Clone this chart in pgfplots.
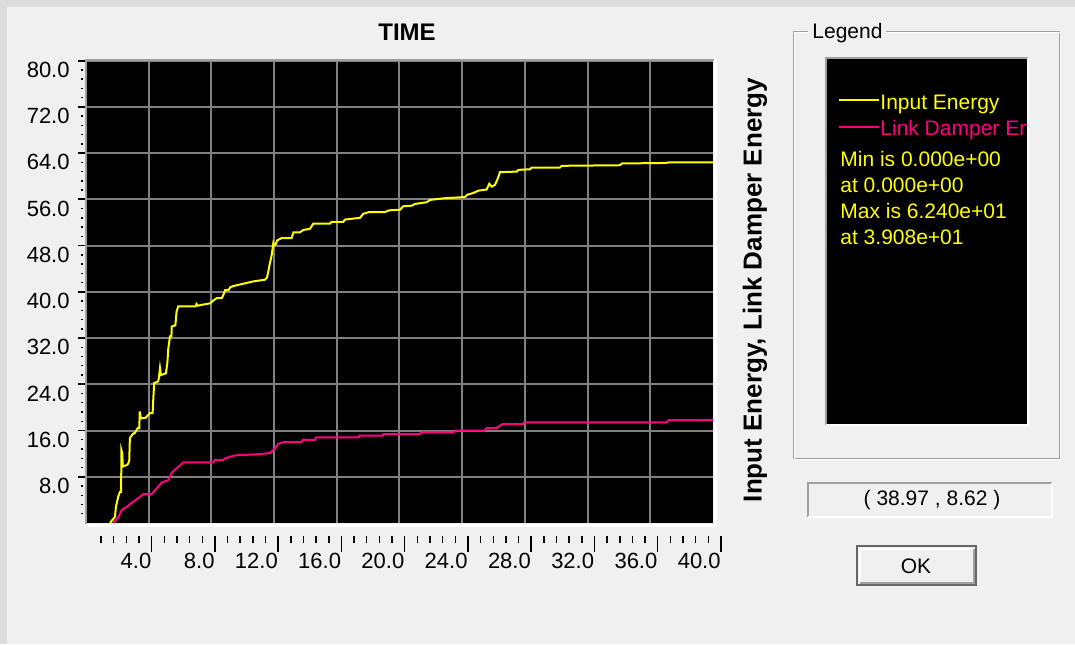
\documentclass[border=0pt]{standalone}
\usepackage{pgfplots}
\pgfplotsset{compat=1.18}
\usepackage{pgfplotstable}
\usepackage{fontspec}
\setmainfont{Liberation Sans}
\definecolor{winbg}{HTML}{F0F0F0}
\definecolor{winedge}{HTML}{DCDCDC}
\definecolor{gridgray}{HTML}{808080}
\definecolor{edgegray}{HTML}{A0A0A0}
\definecolor{yel}{HTML}{FFFF00}
\definecolor{mag}{HTML}{FF0080}
\newcommand\ticklab{\fontsize{11}{13}\selectfont}
\newcommand\legfont{\fontsize{10.5}{12}\selectfont}

\pgfplotstableread{
x y
1.53 0
1.85 1.1
1.91 2.8
2.06 4.6
2.17 5.4
2.24 5.4
2.26 12.6
2.32 12.0
2.34 9.75
2.45 9.9
2.60 10.0
2.70 10.3
2.76 10.9
2.80 14.7
3.02 15.5
3.10 15.5
3.30 16.4
3.40 16.4
3.43 19.3
3.50 18.1
3.80 18.2
4.08 19.0
4.25 19.0
4.29 21.3
4.35 24.2
4.60 24.5
4.65 25.1
4.72 26.8
4.78 25.6
5.10 25.9
5.19 27.7
5.25 30.2
5.36 32.3
5.45 32.3
5.47 34.0
5.70 34.2
5.78 36.6
5.89 37.5
7.00 37.5
7.05 37.9
7.15 37.6
7.49 37.8
7.91 38.0
8.12 38.5
8.34 38.9
8.66 38.9
8.80 39.7
8.87 40.3
9.10 40.3
9.20 40.8
9.40 41.0
10.04 41.4
10.67 41.8
11.42 42.1
11.55 42.5
11.63 43.5
11.70 44.5
11.85 46.4
11.95 48.4
12.00 48.0
12.10 48.2
12.20 48.9
12.27 49.0
12.48 49.3
13.12 49.3
13.23 50.3
13.65 50.3
13.86 50.7
14.29 50.9
14.50 51.8
15.57 51.8
15.67 52.1
16.41 52.1
16.52 52.5
17.48 52.8
17.69 53.5
18.07 53.8
19.07 53.8
19.35 54.1
20.03 54.2
20.24 54.8
20.78 54.9
20.99 55.2
21.73 55.5
21.95 55.9
22.90 56.2
24.18 56.4
24.33 56.8
24.71 57.1
25.03 57.5
25.56 57.7
25.73 58.7
25.88 58.2
26.09 58.5
26.24 59.4
26.35 60.2
26.41 60.7
27.48 60.8
27.58 61.1
28.33 61.2
28.43 61.5
30.24 61.5
30.35 61.8
34.07 61.9
34.18 62.2
37.05 62.3
37.15 62.4
40.00 62.4
}\inputtab

\pgfplotstableread{
x y
1.74 0
2.06 1.0
2.28 2.25
2.60 2.8
3.02 3.7
3.34 4.3
3.66 5.0
4.19 5.0
4.51 6.0
4.83 7.0
5.25 7.4
5.47 8.7
6.21 10.5
8.12 10.5
8.23 10.9
8.76 10.9
8.87 11.2
9.51 11.7
10.99 11.9
11.74 12.1
12.06 12.9
12.27 13.7
12.59 14.0
13.75 14.0
13.82 14.4
14.62 14.4
14.67 14.8
17.37 14.8
17.44 15.1
18.93 15.1
18.97 15.4
21.31 15.4
21.42 15.7
23.44 15.7
23.54 16.0
25.45 16.0
25.52 16.4
26.20 16.4
26.31 16.7
26.58 17.1
27.88 17.1
27.94 17.4
37.05 17.4
37.15 17.8
40.00 17.8
}\dampertab

\begin{document}
\begin{tikzpicture}
% background, in pixel units; origin of picture = lower left of plot area
\begin{scope}[x=0.5pt,y=0.5pt,shift={(-43pt,-60.5pt)}]
\useasboundingbox (0,0) rectangle (1075,644);
\fill[winbg] (0,0) rectangle (1075,644);
\fill[winedge] (0,637) rectangle (1075,644);
\fill[winedge] (0,0) rectangle (7,644);
\end{scope}

% main plot
\begin{axis}[
  scale only axis, width=313.5pt, height=231.2pt,
  xmin=0, xmax=40, ymin=0, ymax=80,
  axis background/.style={fill=black},
  axis line style={draw=none},
  xtick={4,8,...,36}, xticklabels={},
  major x tick style={draw=none},
  ytick={8,16,...,80},
  yticklabels={8.0,16.0,24.0,32.0,40.0,48.0,56.0,64.0,72.0,80.0},
  minor ytick={1.6,3.2,...,78.4},
  ytick pos=left,
  tick align=outside,
  major tick length=4pt, minor tick length=1pt,
  major y tick style={black, line width=0.9pt},
  minor y tick style={black, line width=0.7pt, xshift=-1.5pt},
  grid=major, major grid style={gridgray, line width=1pt},
  yticklabel style={anchor=north east, font=\ticklab, inner sep=0pt, xshift=-4pt, yshift=-0.5pt},
]
\addplot[yel, line width=1pt] table[x=x,y=y] {\inputtab};
\addplot[mag, line width=1pt] table[x=x,y=y] {\dampertab};
\end{axis}

% x ticks below the plot
\begin{axis}[
  at={(1.2pt,-6.5pt)},
  scale only axis, width=316.3pt, height=1pt,
  xmin=0, xmax=40, ymin=0, ymax=1,
  axis line style={draw=none},
  ytick=\empty,
  xtick={4,8,...,40},
  xticklabels={4.0,8.0,12.0,16.0,20.0,24.0,28.0,32.0,36.0,40.0},
  minor xtick={0.8,1.6,...,39.2},
  xtick pos=left,
  tick align=outside,
  major tick length=8pt, minor tick length=3.5pt,
  every tick/.style={black, line width=0.75pt},
  xticklabel style={anchor=north east, font=\ticklab, inner sep=0pt, yshift=-0.5pt},
]
\end{axis}

\begin{scope}[x=0.5pt,y=0.5pt,shift={(-43pt,-60.5pt)}]
% plot frame (3D)
\draw[edgegray, line width=1pt] (86,120) -- (86,584) -- (714,584);
\draw[white, line width=1.5pt] (715,585) -- (715,118.5) -- (85,118.5);

\node[font=\bfseries\fontsize{12}{14}\selectfont] at (407,612) {TIME};
\node[rotate=90, font=\bfseries\fontsize{13}{15}\selectfont] at (755,354) {Input Energy, Link Damper Energy};

% legend group box
\draw[edgegray, line width=0.5pt] (793,612) rectangle (1059,186);
\draw[white, line width=0.5pt] (794,611) rectangle (1060,185);
\node[fill=winbg, inner sep=2pt, anchor=base west] at (808,606) {\legfont Legend};
\fill[black] (826,586) rectangle (1028,219);
\draw[edgegray, line width=1pt] (826,219) -- (826,586) -- (1028,586);
\draw[white, line width=1pt] (1028,586) -- (1028,219) -- (826,219);
\draw[yel, line width=0.75pt] (839,544) -- (879,544);
\draw[mag, line width=0.75pt] (839,517) -- (879,517);
\begin{scope}
\clip (827,585) rectangle (1026,220);
\node[anchor=base west, inner sep=0pt, text=yel] at (880,535) {\legfont Input Energy};
\node[anchor=base west, inner sep=0pt, text=mag] at (880,509) {\legfont Link Damper Energy};
\node[anchor=base west, inner sep=0pt, text=yel] at (840,477.5) {\legfont Min is 0.000e+00};
\node[anchor=base west, inner sep=0pt, text=yel] at (840,451.5) {\legfont at 0.000e+00};
\node[anchor=base west, inner sep=0pt, text=yel] at (840,425.5) {\legfont Max is 6.240e+01};
\node[anchor=base west, inner sep=0pt, text=yel] at (840,399.5) {\legfont at 3.908e+01};
\end{scope}

% coordinate readout field
\draw[edgegray, line width=1pt] (808,127) -- (808,161) -- (1052,161);
\draw[white, line width=1pt] (1052,161) -- (1052,127) -- (808,127);
\node at (932,144) {\legfont ( 38.97 , 8.62 )};

% OK button
\draw[black!60, line width=0.75pt] (857,98) rectangle (976,59);
\draw[white, line width=1pt] (859.5,61) -- (859.5,95.5) -- (974,95.5);
\draw[edgegray, line width=1pt] (973.5,95.5) -- (973.5,61.5) -- (859.5,61.5);
\node at (916,78) {\legfont OK};
\end{scope}
\end{tikzpicture}
\end{document}
